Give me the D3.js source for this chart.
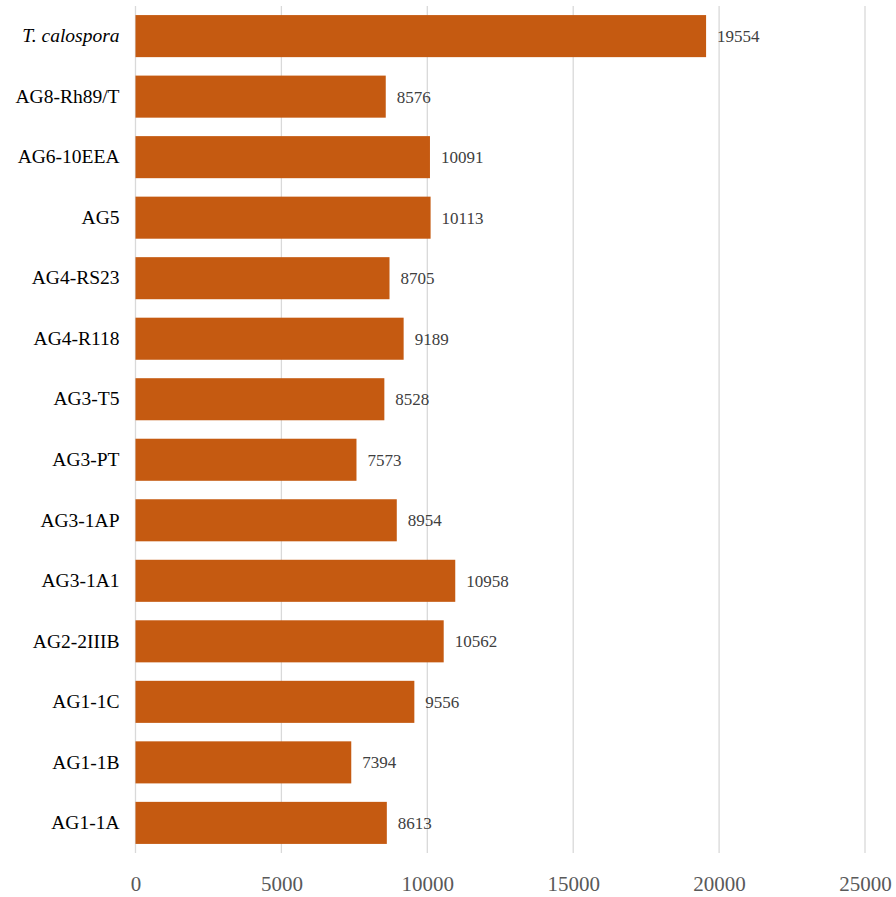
<!DOCTYPE html>
<html>
<head>
<meta charset="utf-8">
<script src="https://cdn.jsdelivr.net/npm/d3@7"></script>
<style>
  body { margin: 0; background: #fff; }
</style>
</head>
<body>
<div id="chart"></div>
<script>
// categories top to bottom
const strains = ["T. calospora", "AG8-Rh89/T", "AG6-10EEA", "AG5", "AG4-RS23", "AG4-R118",
  "AG3-T5", "AG3-PT", "AG3-1AP", "AG3-1A1", "AG2-2IIIB", "AG1-1C", "AG1-1B", "AG1-1A"];
const counts = [19554, 8576, 10091, 10113, 8705, 9189, 8528, 7573, 8954, 10958, 10562, 9556, 7394, 8613];
const xTicks = [0, 5000, 10000, 15000, 20000, 25000];

const margin = {top: 6, right: 31, bottom: 44, left: 135.5},
    width = 896 - margin.left - margin.right,
    height = 897 - margin.top - margin.bottom;

const svg = d3.select("#chart")
  .append("svg")
    .attr("width", 896)
    .attr("height", 897)
  .append("g")
    .attr("transform", `translate(${margin.left}, ${margin.top})`);

const data = strains.map((s, i) => ({name: s, value: counts[i]}));

const x = d3.scaleLinear()
  .domain([0, 25000])
  .range([0, width]);

const y = d3.scaleBand()
  .domain(strains)
  .range([0, height])
  .paddingInner(0.305)
  .paddingOuter(0.15);

// vertical gridlines
svg.append("g")
  .selectAll("line")
  .data(xTicks)
  .join("line")
    .attr("x1", d => x(d))
    .attr("x2", d => x(d))
    .attr("y1", 0)
    .attr("y2", height)
    .attr("stroke", "#d9d9d9")
    .attr("stroke-width", 1.3);

// bars
svg.append("g")
  .selectAll("rect")
  .data(data)
  .join("rect")
    .attr("x", x(0))
    .attr("y", d => y(d.name))
    .attr("width", d => x(d.value) - x(0))
    .attr("height", y.bandwidth())
    .attr("fill", "#c55a11");

// value labels
svg.append("g")
  .selectAll("text")
  .data(data)
  .join("text")
    .attr("x", d => x(d.value) + 11)
    .attr("y", d => y(d.name) + y.bandwidth() / 2 + 6)
    .attr("font-family", "Liberation Serif")
    .attr("font-size", "17px")
    .attr("fill", "#404040")
    .text(d => d.value);

// y axis labels
const yAxis = svg.append("g")
  .attr("transform", "translate(-16, 0)")
  .call(d3.axisLeft(y).tickSize(0).tickPadding(0));
yAxis.select(".domain").remove();
yAxis.selectAll("text")
  .attr("font-family", "Liberation Serif")
  .attr("font-size", "19.5px")
  .attr("fill", "#000")
  .style("font-style", d => d === "T. calospora" ? "italic" : "normal");

// x axis
const xAxis = svg.append("g")
  .attr("transform", `translate(0, ${height})`)
  .call(d3.axisBottom(x).tickValues(xTicks).tickFormat(d3.format("d")).tickSize(0).tickPadding(23));
xAxis.select(".domain").remove();
xAxis.selectAll("text")
  .attr("font-family", "Liberation Serif")
  .attr("font-size", "21px")
  .attr("fill", "#595959");
</script>
</body>
</html>
